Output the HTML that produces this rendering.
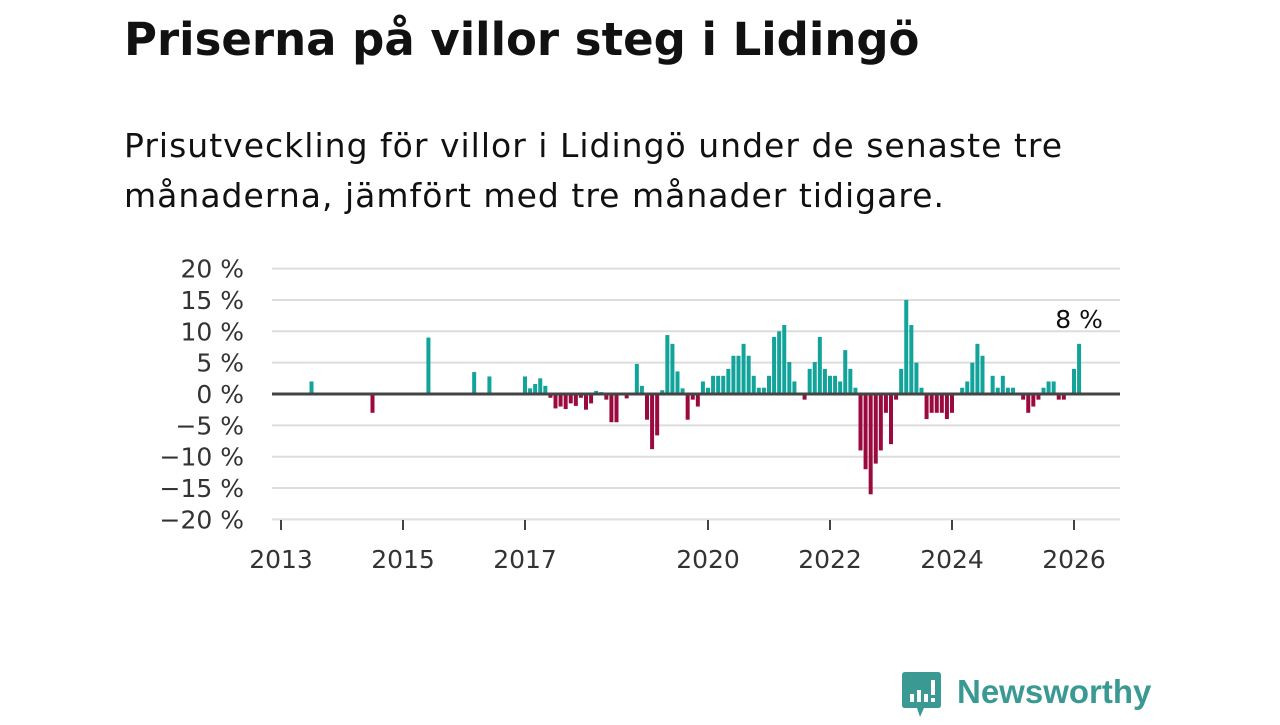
<!DOCTYPE html>
<html><head><meta charset="utf-8"><style>
body{margin:0;width:1280px;height:720px;background:#fff;overflow:hidden;font-family:"Liberation Sans","DejaVu Sans",sans-serif;}
svg text{font-family:"DejaVu Sans","Liberation Sans",sans-serif;}
</style></head><body>
<svg id="chart" width="1280" height="720" xmlns="http://www.w3.org/2000/svg">
<text x="124" y="55" font-size="45" font-weight="bold" fill="#111">Priserna på villor steg i Lidingö</text>
<text x="124" y="157" font-size="33" fill="#111" textLength="938">Prisutveckling för villor i Lidingö under de senaste tre</text>
<text x="124" y="207" font-size="33" fill="#111" textLength="820">månaderna, jämfört med tre månader tidigare.</text>
<g id="grid"></g>
<g id="bars"></g>
<g id="axes"></g>
<g>
<path d="M905 672 h33 q3 0 3 3 v30 q0 3 -3 3 h-14 l-4 9 l-3 -9 h-12 q-3 0 -3 -3 v-30 q0 -3 3 -3z" fill="#3a9a93"/>
<rect x="910" y="694" width="4" height="8" fill="#fff"/><rect x="917" y="690" width="4" height="12" fill="#fff"/><rect x="924" y="694" width="4" height="8" fill="#fff"/><rect x="931" y="680" width="4" height="15" fill="#fff"/><rect x="931" y="698" width="4" height="4" fill="#fff"/>
<text x="957" y="703" font-size="33" font-weight="bold" fill="#3a9a93" style="font-family:'Liberation Sans',sans-serif">Newsworthy</text>
</g>
</svg>
<script>
const months=["2013-07","2014-07","2015-06","2016-03","2016-06","2017-01","2017-02","2017-03","2017-04","2017-05","2017-06","2017-07","2017-08","2017-09","2017-10","2017-11","2017-12","2018-01","2018-02","2018-03","2018-04","2018-05","2018-06","2018-07","2018-09","2018-11","2018-12","2019-01","2019-02","2019-03","2019-04","2019-05","2019-06","2019-07","2019-08","2019-09","2019-10","2019-11","2019-12","2020-01","2020-02","2020-03","2020-04","2020-05","2020-06","2020-07","2020-08","2020-09","2020-10","2020-11","2020-12","2021-01","2021-02","2021-03","2021-04","2021-05","2021-06","2021-08","2021-09","2021-10","2021-11","2021-12","2022-01","2022-02","2022-03","2022-04","2022-05","2022-06","2022-07","2022-08","2022-09","2022-10","2022-11","2022-12","2023-01","2023-02","2023-03","2023-04","2023-05","2023-06","2023-07","2023-08","2023-09","2023-10","2023-11","2023-12","2024-01","2024-03","2024-04","2024-05","2024-06","2024-07","2024-09","2024-10","2024-11","2024-12","2025-01","2025-03","2025-04","2025-05","2025-06","2025-07","2025-08","2025-09","2025-10","2025-11","2026-01","2026-02"];
const values=[2,-3,9,3.5,2.8,2.8,0.9,1.6,2.5,1.3,-0.6,-2.3,-2,-2.4,-1.5,-1.9,-0.6,-2.5,-1.5,0.5,0.3,-0.9,-4.5,-4.5,-0.7,4.8,1.3,-4.1,-8.8,-6.6,0.6,9.4,8,3.6,0.9,-4.1,-0.9,-2,2,1,2.9,2.9,2.9,4,6.1,6.1,8,6.1,2.9,1,1,2.9,9.1,10,11,5.1,2,-0.9,4,5.1,9.1,4,2.9,2.9,2,7,4,1,-9,-12,-16,-11.1,-9,-3,-8,-0.9,4,15,11,5,1,-4,-3,-3,-3,-4,-3,1,2,5,8,6.1,2.9,1,2.9,1,1,-0.9,-3,-2,-0.9,1,2,2,-0.9,-0.9,4,8];
const yTicks=[20,15,10,5,0,-5,-10,-15,-20];
const xTickYears=[2013,2015,2017,2020,2022,2024,2026];
const NS="http://www.w3.org/2000/svg";
function y(v){return 394-v*6.27;}
function xm(s){const [a,b]=s.split("-").map(Number);return 281+((a-2013)*12+(b-1))*61/12;}
function mk(t,at,p){const e=document.createElementNS(NS,t);for(const k in at)e.setAttribute(k,at[k]);p.appendChild(e);return e;}
const grid=document.getElementById('grid'),bars=document.getElementById('bars'),axes=document.getElementById('axes');
yTicks.forEach(v=>{
 if(v!==0){const l=mk('line',{x1:272,x2:1120,y1:y(v),y2:y(v),stroke:'#ddd','stroke-width':2},grid);
 
 }
 const t=mk('text',{x:244,y:y(v)+9,'font-size':25,fill:'#333','text-anchor':'end'},axes);
 t.textContent=(v<0?'\u2212'+(-v):v)+' %';
 
 
});
months.forEach((m,i)=>{const v=values[i];const cx=xm(m);
 const r=mk('rect',{x:cx-2,y:Math.min(y(v),y(0)),width:4,height:Math.abs(y(v)-y(0)),fill:v>=0?'#12a39a':'#9b0a3f'},bars);
 
 
});
const z=mk('line',{x1:272,x2:1120,y1:y(0),y2:y(0),stroke:'#444','stroke-width':3},axes);


const bl=mk('line',{x1:272,x2:1120,y1:520,y2:520,stroke:'#e4e4e4','stroke-width':1},axes);


xTickYears.forEach(yr=>{const cx=xm(yr+'-01');
 const tk=mk('line',{x1:cx,x2:cx,y1:520,y2:530,stroke:'#444','stroke-width':2},axes);
 
 
 const t=mk('text',{x:cx,y:568,'font-size':25,fill:'#333','text-anchor':'middle'},axes);
 t.textContent=yr;
 
 
});
const li=months.length-1;
const lab=mk('text',{x:xm(months[li]),y:y(values[li])-16,'font-size':25,fill:'#111','text-anchor':'middle'},axes);
lab.textContent=values[li]+' %';


</script>
</body></html>
